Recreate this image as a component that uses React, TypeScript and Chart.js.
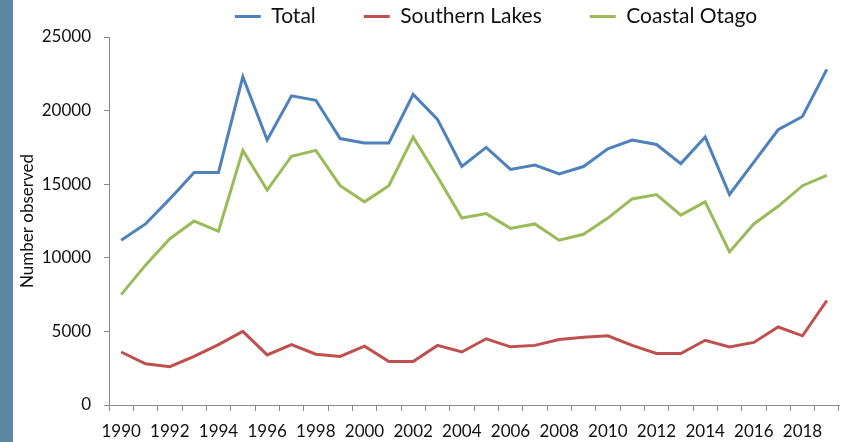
import React, { useEffect, useRef } from "react";
import { Chart, registerables } from "chart.js";

Chart.register(...registerables);

const years: string[] = [
  "1990", "1991", "1992", "1993", "1994", "1995", "1996", "1997", "1998", "1999",
  "2000", "2001", "2002", "2003", "2004", "2005", "2006", "2007", "2008", "2009",
  "2010", "2011", "2012", "2013", "2014", "2015", "2016", "2017", "2018", "2019",
];

const total: number[] = [
  11200, 12300, 14000, 15800, 15800, 22300, 18000, 21000, 20700, 18100,
  17800, 17800, 21100, 19400, 16200, 17500, 16000, 16300, 15700, 16200,
  17400, 18000, 17700, 16400, 18200, 14300, 16500, 18700, 19600, 22800,
];

const southernLakes: number[] = [
  3600, 2800, 2600, 3300, 4100, 5000, 3400, 4100, 3450, 3300,
  4000, 2950, 2950, 4050, 3600, 4500, 3950, 4050, 4450, 4600,
  4700, 4050, 3500, 3500, 4400, 3950, 4250, 5300, 4700, 7100,
];

const coastalOtago: number[] = [
  7500, 9500, 11300, 12500, 11800, 17300, 14600, 16900, 17300, 14900,
  13800, 14900, 18200, 15500, 12700, 13000, 12000, 12300, 11200, 11600,
  12700, 14000, 14300, 12900, 13800, 10400, 12300, 13500, 14900, 15600,
];

const yTicks: number[] = [0, 5000, 10000, 15000, 20000, 25000];

const FONT = "Lato, 'Open Sans', sans-serif";

const legendShift = {
  id: "legendShift",
  afterLayout(chart: any) {
    if (chart.legend) chart.legend.left += 44;
  },
};

export default function App() {
  const ref = useRef<HTMLCanvasElement | null>(null);

  useEffect(() => {
    if (!ref.current) return;
    const axisGray = "#8a8a8a";
    const chart = new Chart(ref.current, {
      type: "line",
      data: {
        labels: years,
        datasets: [
          { label: "Total", data: total, borderColor: "#4F81BD", backgroundColor: "#4F81BD" },
          { label: "Southern Lakes", data: southernLakes, borderColor: "#C0504D", backgroundColor: "#C0504D" },
          { label: "Coastal Otago", data: coastalOtago, borderColor: "#9BBB59", backgroundColor: "#9BBB59" },
        ].map((d) => ({ ...d, borderWidth: 3, pointRadius: 0, tension: 0, fill: false })),
      },
      options: {
        animation: false,
        responsive: false,
        maintainAspectRatio: false,
        layout: { padding: { top: -42, left: 13, right: 7, bottom: 0 } },
        plugins: {
          tooltip: { enabled: false },
          legend: {
            position: "top",
            fullSize: false,
            labels: {
              boxWidth: 26,
              boxHeight: 0,
              padding: 48,
              color: "#111",
              font: { family: FONT, size: 21 },
            },
          },
        },
        scales: {
          x: {
            type: "category",
            offset: true,
            grid: {
              display: true,
              offset: true,
              drawOnChartArea: false,
              drawTicks: true,
              tickLength: 6,
              color: axisGray,
            },
            border: { display: true, color: axisGray, width: 1 },
            ticks: {
              autoSkip: false,
              maxRotation: 0,
              minRotation: 0,
              padding: 10,
              color: "#111",
              font: { family: FONT, size: 17 },
              callback: (_v: any, i: number) => (i % 2 === 0 ? years[i] : ""),
            },
            afterFit: (s: any) => {
              s.height = 37;
            },
          },
          y: {
            min: 0,
            max: 25000,
            afterBuildTicks: (s: any) => {
              s.ticks = yTicks.map((v) => ({ value: v }));
            },
            grid: {
              display: true,
              drawOnChartArea: false,
              drawTicks: true,
              tickLength: 5,
              color: axisGray,
            },
            border: { display: true, color: axisGray, width: 1 },
            ticks: {
              padding: 13,
              color: "#111",
              font: { family: FONT, size: 17 },
              callback: (v: any) => String(v),
            },
            title: {
              display: true,
              text: "Number observed",
              color: "#111",
              font: { family: FONT, size: 17 },
              padding: { top: 4, bottom: 4 },
            },
            afterFit: (s: any) => {
              s.width = 96;
            },
          },
        },
      },
      plugins: [legendShift],
    });
    return () => chart.destroy();
  }, []);

  return (
    <div
      style={{
        position: "fixed",
        left: 0,
        top: 0,
        width: 846,
        height: 442,
        background: "#ffffff",
        overflow: "hidden",
      }}
    >
      <div
        style={{
          position: "absolute",
          left: 0,
          top: 0,
          width: 13,
          height: 442,
          background: "#5c87a3",
        }}
      />
      <canvas
        ref={ref}
        width={846}
        height={442}
        style={{ position: "absolute", left: 0, top: 0, width: 846, height: 442 }}
      />
    </div>
  );
}
